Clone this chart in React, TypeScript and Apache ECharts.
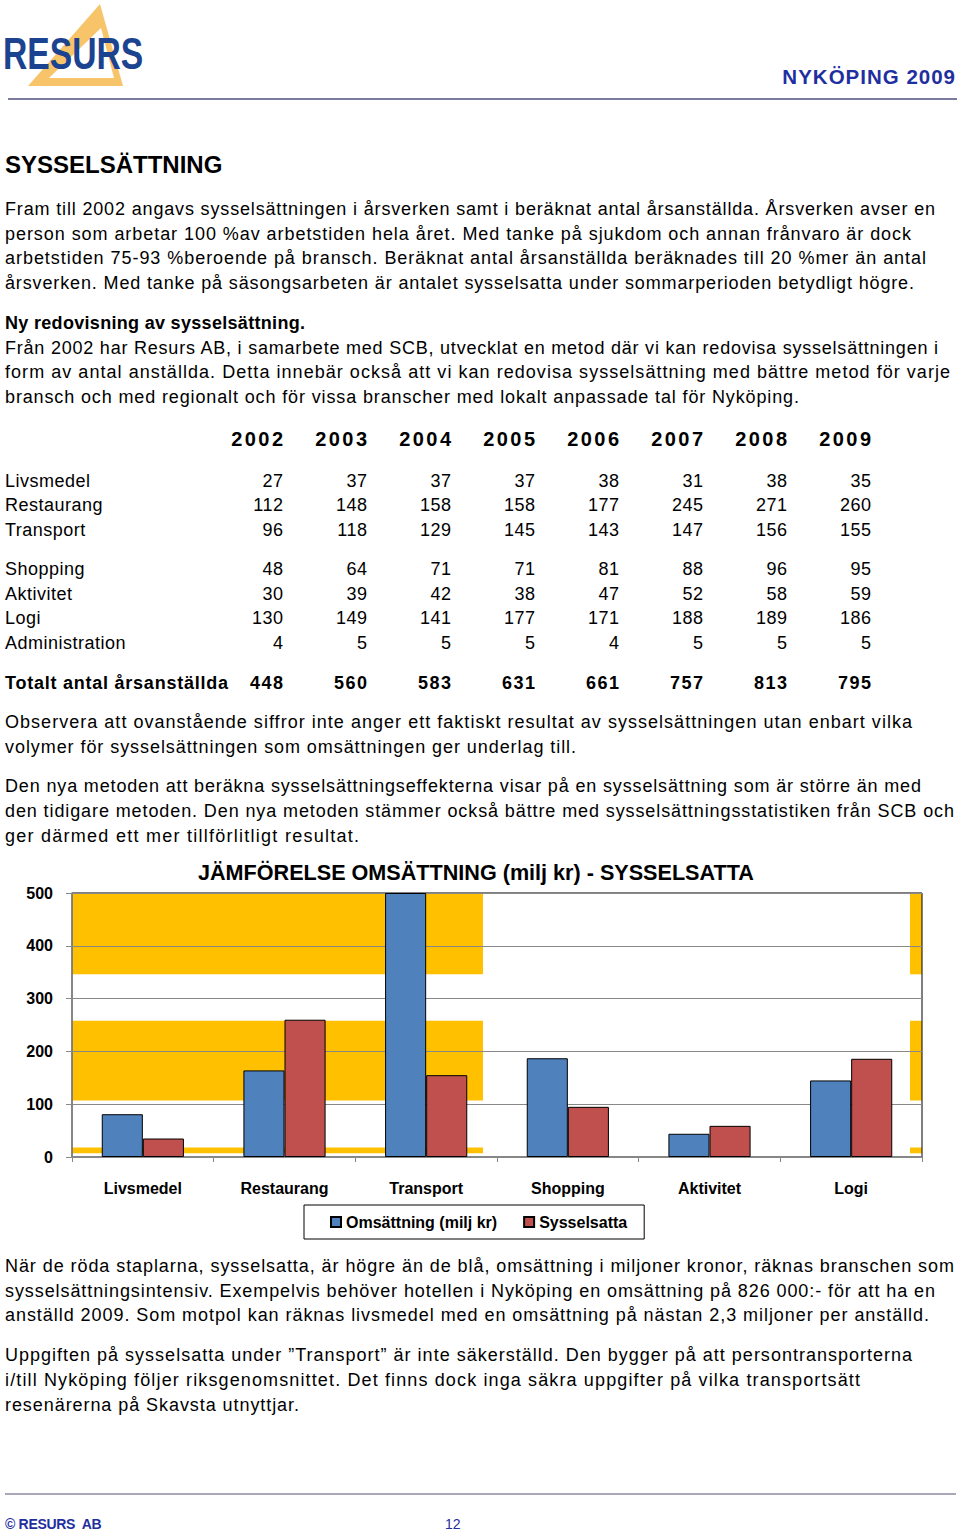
import React, { useEffect, useLayoutEffect, useRef } from "react";
import * as echarts from "echarts";

// ---------- DATA ----------
const years = ["2002", "2003", "2004", "2005", "2006", "2007", "2008", "2009"];
const livsmedel = [27, 37, 37, 37, 38, 31, 38, 35];
const restaurang = [112, 148, 158, 158, 177, 245, 271, 260];
const transport = [96, 118, 129, 145, 143, 147, 156, 155];
const shopping = [48, 64, 71, 71, 81, 88, 96, 95];
const aktivitet = [30, 39, 42, 38, 47, 52, 58, 59];
const logi = [130, 149, 141, 177, 171, 188, 189, 186];
const administration = [4, 5, 5, 5, 4, 5, 5, 5];
const totalt = [448, 560, 583, 631, 661, 757, 813, 795];

const categories = ["Livsmedel", "Restaurang", "Transport", "Shopping", "Aktivitet", "Logi"];
const omsattning = [81, 164, 500, 187, 44, 145];
const sysselsatta = [35, 260, 155, 95, 59, 186];
const yTicks = { min: 0, max: 500, interval: 100 };
// yellow background bands (value ranges) behind the plot
const bandRanges = [
  [346, 500],
  [107, 258],
  [7, 18],
];

const SANS = "'Liberation Sans', Arial, Helvetica, sans-serif";

type LineProps = { y: number; text: string; bold?: boolean; size?: number; ls?: number; x?: number; right?: number };
function Line({ y, text, bold, size = 18, ls = 0.5, x = 5, right }: LineProps) {
  const lh = 22;
  const ref = useRef<HTMLDivElement>(null);
  useLayoutEffect(() => {
    const el = ref.current;
    if (!el || !right) return;
    el.style.letterSpacing = "0px";
    const w = el.getBoundingClientRect().width;
    const n = Array.from(text).length;
    const s = (right - x - w) / Math.max(1, n - 1);
    el.style.letterSpacing = s + "px";
  }, [text, right, x]);
  return (
    <div
      ref={ref}
      style={{
        position: "absolute",
        left: x,
        top: y - lh / 2 + 0.5,
        height: lh,
        lineHeight: lh + "px",
        fontSize: size,
        fontWeight: bold ? "bold" : "normal",
        letterSpacing: ls,
        whiteSpace: "pre",
        color: "#000",
      }}
    >
      {text}
    </div>
  );
}

function Chart() {
  const ref = useRef<HTMLDivElement>(null);
  useEffect(() => {
    if (!ref.current) return;
    const chart = echarts.init(ref.current, undefined, { renderer: "svg" });
    const plotLeft = 72;
    const splitX = 483;
    const rightStrip = 910;
    const plotRight = 922;
    const areas: any[] = [];
    bandRanges.forEach(([lo, hi]) => {
      areas.push([{ x: plotLeft, yAxis: hi }, { x: splitX, yAxis: lo }]);
      areas.push([{ x: rightStrip, yAxis: hi }, { x: plotRight, yAxis: lo }]);
    });
    const labelFont = { fontFamily: SANS, fontWeight: "bold", fontSize: 16, color: "#000" };
    chart.setOption({
      animation: false,
      title: {
        text: "JÄMFÖRELSE OMSÄTTNING (milj kr) - SYSSELSATTA",
        left: 193,
        top: 6,
        textStyle: { fontFamily: SANS, fontWeight: "bold", fontSize: 21.6, color: "#000" },
      },
      legend: {
        data: ["Omsättning (milj kr)", "Sysselsatta"],
        left: 304,
        top: 355,
        icon: "rect",
        itemWidth: 10,
        itemHeight: 10,
        itemGap: 26,
        padding: [9, 17, 9, 26],
        borderColor: "#000",
        borderWidth: 1,
        textStyle: labelFont,
      },
      grid: {
        left: plotLeft,
        right: 960 - plotRight,
        top: 43,
        bottom: 93,
        show: true,
        borderColor: "#000",
        borderWidth: 1,
        backgroundColor: "transparent",
      },
      xAxis: {
        type: "category",
        data: categories,
        axisLine: { lineStyle: { color: "#888", width: 1.5 } },
        axisTick: { show: true, length: 5, lineStyle: { color: "#888" } },
        axisLabel: { ...labelFont, interval: 0, margin: 23 },
      },
      yAxis: {
        type: "value",
        min: yTicks.min,
        max: yTicks.max,
        interval: yTicks.interval,
        axisLine: { show: true, lineStyle: { color: "#888", width: 1.5 } },
        axisTick: { show: true, length: 6, lineStyle: { color: "#888" } },
        splitLine: { lineStyle: { color: "#888", width: 1.2 } },
        axisLabel: { ...labelFont, margin: 19 },
      },
      series: [
        {
          name: "Omsättning (milj kr)",
          type: "bar",
          data: omsattning,
          barCategoryGap: "42%",
          barGap: "0%",
          itemStyle: { color: "#4F81BD", borderColor: "#000", borderWidth: 1 },
          markArea: {
            silent: true,
            z: -1,
            itemStyle: { color: "#FFC000" },
            data: areas,
          },
        },
        {
          name: "Sysselsatta",
          type: "bar",
          data: sysselsatta,
          barCategoryGap: "42%",
          barGap: "0%",
          itemStyle: { color: "#C0504D", borderColor: "#000", borderWidth: 1 },
        },
      ],
    });
    return () => chart.dispose();
  }, []);
  return <div ref={ref} style={{ position: "absolute", left: 0, top: 850, width: 960, height: 400 }} />;
}

const tableRows: [string, number[], number][] = [
  ["Livsmedel", livsmedel, 480],
  ["Restaurang", restaurang, 504.5],
  ["Transport", transport, 529],
  ["Shopping", shopping, 568],
  ["Aktivitet", aktivitet, 593],
  ["Logi", logi, 617.5],
  ["Administration", administration, 642],
];

export default function App() {
  useEffect(() => {
    document.body.style.margin = "0";
  }, []);
  const colRight = (i: number) => 283 + 84 * i;
  return (
    <div
      style={{
        position: "absolute",
        left: 0,
        top: 0,
        width: 960,
        height: 1533,
        background: "#fff",
        overflow: "hidden",
        fontFamily: SANS,
      }}
    >
      {/* Logo */}
      <svg width={160} height={95} style={{ position: "absolute", left: 0, top: 0 }}>
        <polygon points="100,4 28,86 123,86" fill="#F7C46A" />
        <polygon points="101,28 49,78 114,78" fill="#fff" />
      </svg>
      <div
        style={{
          position: "absolute",
          left: 3,
          top: 32,
          fontSize: 44,
          lineHeight: "44px",
          fontWeight: "bold",
          color: "#1C4390",
          transform: "scaleX(0.765)",
          transformOrigin: "0 0",
          whiteSpace: "pre",
        }}
      >
        RESURS
      </div>
      <div
        style={{
          position: "absolute",
          right: 4,
          top: 66,
          fontSize: 20.5,
          lineHeight: "22px",
          fontWeight: "bold",
          letterSpacing: 1,
          color: "#1F2FA0",
          whiteSpace: "pre",
        }}
      >
        NYKÖPING 2009
      </div>
      <div style={{ position: "absolute", left: 8, top: 98, width: 949, height: 1.5, background: "#7B7BA0" }} />

      <Line y={164} text="SYSSELSÄTTNING" bold size={24} ls={0} />

      <Line y={208} right={935} text="Fram till 2002 angavs sysselsättningen i årsverken samt i beräknat antal årsanställda. Årsverken avser en" />
      <Line y={233} right={911} text="person som arbetar 100 %av arbetstiden hela året. Med tanke på sjukdom och annan frånvaro är dock" />
      <Line y={257.5} right={926} text="arbetstiden 75-93 %beroende på bransch. Beräknat antal årsanställda beräknades till 20 %mer än antal" />
      <Line y={282} right={914} text="årsverken. Med tanke på säsongsarbeten är antalet sysselsatta under sommarperioden betydligt högre." />

      <Line y={322} right={305} text="Ny redovisning av sysselsättning." bold />
      <Line y={347} right={938} text="Från 2002 har Resurs AB, i samarbete med SCB, utvecklat en metod där vi kan redovisa sysselsättningen i" />
      <Line y={371} right={950} text="form av antal anställda. Detta innebär också att vi kan redovisa sysselsättning med bättre metod för varje" />
      <Line y={396} right={799} text="bransch och med regionalt och för vissa branscher med lokalt anpassade tal för Nyköping." />

      {/* Table */}
      {years.map((yr, i) => (
        <div
          key={yr}
          style={{
            position: "absolute",
            right: 960 - colRight(i) - 2.4,
            top: 438 - 11.5,
            lineHeight: "24px",
            fontSize: 20,
            fontWeight: "bold",
            letterSpacing: 2.4,
            whiteSpace: "pre",
          }}
        >
          {yr}
        </div>
      ))}
      {tableRows.map(([name, vals, y]) => (
        <React.Fragment key={name}>
          <Line y={y} text={name} />
          {vals.map((v, i) => (
            <div
              key={i}
              style={{
                position: "absolute",
                right: 960 - colRight(i) - 0.5,
                top: y - 10.5,
                lineHeight: "22px",
                fontSize: 18,
                letterSpacing: 0.5,
                whiteSpace: "pre",
              }}
            >
              {v}
            </div>
          ))}
        </React.Fragment>
      ))}
      <Line y={682} right={228} text="Totalt antal årsanställda" bold />
      {totalt.map((v, i) => (
        <div
          key={i}
          style={{
            position: "absolute",
            right: 960 - colRight(i) - 1.5,
            top: 682 - 10.5,
            lineHeight: "22px",
            fontSize: 18,
            fontWeight: "bold",
            letterSpacing: 1.5,
            whiteSpace: "pre",
          }}
        >
          {v}
        </div>
      ))}

      <Line y={721} right={912} text="Observera att ovanstående siffror inte anger ett faktiskt resultat av sysselsättningen utan enbart vilka" />
      <Line y={746} right={576} text="volymer för sysselsättningen som omsättningen ger underlag till." />
      <Line y={785} right={921} text="Den nya metoden att beräkna sysselsättningseffekterna visar på en sysselsättning som är större än med" />
      <Line y={810} right={954} text="den tidigare metoden. Den nya metoden stämmer också bättre med sysselsättningsstatistiken från SCB och" />
      <Line y={835} right={359} text="ger därmed ett mer tillförlitligt resultat." />

      <Chart />

      <Line y={1265} right={954} text="När de röda staplarna, sysselsatta, är högre än de blå, omsättning i miljoner kronor, räknas branschen som" />
      <Line y={1290} right={935} text="sysselsättningsintensiv. Exempelvis behöver hotellen i Nyköping en omsättning på 826 000:- för att ha en" />
      <Line y={1314} right={929} text="anställd 2009. Som motpol kan räknas livsmedel med en omsättning på nästan 2,3 miljoner per anställd." />
      <Line y={1354} right={912} text="Uppgiften på sysselsatta under ”Transport” är inte säkerställd. Den bygger på att persontransporterna" />
      <Line y={1379} right={860} text="i/till Nyköping följer riksgenomsnittet. Det finns dock inga säkra uppgifter på vilka transportsätt" />
      <Line y={1404} right={299} text="resenärerna på Skavsta utnyttjar." />

      {/* Footer */}
      <div style={{ position: "absolute", left: 5, top: 1493, width: 951, height: 2, background: "#A8A8B8" }} />
      <div
        style={{
          position: "absolute",
          left: 5,
          top: 1516,
          fontSize: 14,
          lineHeight: "16px",
          fontWeight: "bold",
          color: "#1F2FA0",
          letterSpacing: -0.3,
          whiteSpace: "pre",
        }}
      >
        © RESURS  AB
      </div>
      <div
        style={{
          position: "absolute",
          left: 445,
          top: 1516,
          fontSize: 14,
          lineHeight: "16px",
          color: "#1F2FA0",
          whiteSpace: "pre",
        }}
      >
        12
      </div>
    </div>
  );
}
